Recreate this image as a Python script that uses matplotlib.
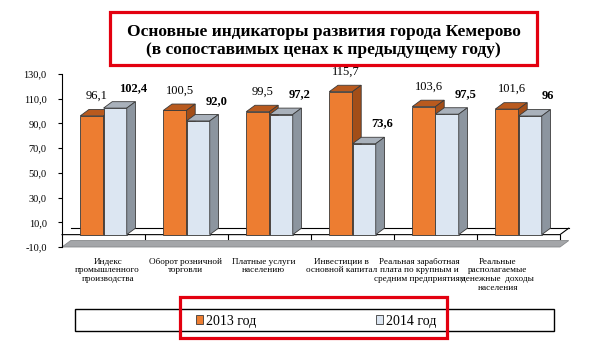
import matplotlib
matplotlib.use("Agg")
import matplotlib.pyplot as plt
from matplotlib.patches import Polygon, Rectangle, Patch
import numpy as np

categories = [
    "Индекс\nпромышленного\nпроизводства",
    "Оборот розничной\nторговли",
    "Платные услуги\nнаселению",
    "Инвестиции в\nосновной капитал",
    "Реальная заработная\nплата по крупным и\nсредним предприятиям",
    "Реальные\nрасполагаемые\nденежные  доходы\nнаселения",
]
vals_2013 = [96.1, 100.5, 99.5, 115.7, 103.6, 101.6]
vals_2014 = [102.4, 92.0, 97.2, 73.6, 97.5, 96.0]
labels_2013 = ["96,1", "100,5", "99,5", "115,7", "103,6", "101,6"]
labels_2014 = ["102,4", "92,0", "97,2", "73,6", "97,5", "96"]
series_names = ["2013 год", "2014 год"]
yticks = [-10, 10, 30, 50, 70, 90, 110, 130]

SERIF = "Liberation Serif"
plt.rcParams["font.family"] = [SERIF, "DejaVu Serif"]

# face colours: front, top, side
orange = ("#ED7D31", "#B95A1E", "#A34E18")
light = ("#DCE6F2", "#A9B1BB", "#8C959F")
edge = "#3a3a3a"

fig = plt.figure(figsize=(6.05, 3.53), dpi=100)
ax = fig.add_axes([62 / 605, 1 - 247 / 353, 498 / 605, 173 / 353])
ax.set_xlim(-0.5, 5.5)
ax.set_ylim(-10, 130)

dx, dy = 0.105, 5.2  # fake 3d depth
x = np.arange(len(categories))
w = 0.28

# floor
ax.add_patch(Polygon([(-0.5, -10), (5.5, -10), (5.5 + dx, -10 + dy), (-0.5 + dx, -10 + dy)],
                     closed=True, facecolor="#A4A6A9", edgecolor="#86888b", lw=0.6,
                     clip_on=False, zorder=1))
ax.plot([-0.5 + dx, 5.5 + dx], [dy, dy], color="black", lw=0.8, clip_on=False, zorder=1)
ax.plot([-0.5, 5.5, 5.5 + dx], [0, 0, dy], color="black", lw=0.8, clip_on=False, zorder=1)
for b in np.arange(0.5, 6.0, 1.0):
    ax.plot([b, b], [0, -3.5], color="black", lw=0.8, clip_on=False, zorder=1)


def bars_3d(xs, vals, cols, z):
    bars = ax.bar(xs, vals, width=w, color=cols[0], edgecolor=edge, lw=0.6, zorder=z)
    for r in bars:
        x0, h = r.get_x(), r.get_height()
        x1 = x0 + r.get_width()
        ax.add_patch(Polygon([(x0, h), (x1, h), (x1 + dx, h + dy), (x0 + dx, h + dy)],
                             closed=True, facecolor=cols[1], edgecolor=edge, lw=0.6,
                             zorder=z, clip_on=False))
        ax.add_patch(Polygon([(x1, 0), (x1 + dx, dy), (x1 + dx, h + dy), (x1, h)],
                             closed=True, facecolor=cols[2], edgecolor=edge, lw=0.6,
                             zorder=z, clip_on=False))
    return bars


bars_3d(x - w / 2, vals_2013, orange, 3)
bars_3d(x + w / 2, vals_2014, light, 4)

for xi, v, s in zip(x, vals_2013, labels_2013):
    ax.annotate(s, (xi - w / 2, v), xytext=(3.5, 14.5), textcoords="offset points",
                ha="center", va="center", fontsize=9, annotation_clip=False)
for xi, v, s in zip(x, vals_2014, labels_2014):
    ax.annotate(s, (xi + w / 2, v), xytext=(13, 14.5), textcoords="offset points",
                ha="center", va="center", fontsize=9, fontweight="bold",
                annotation_clip=False)

# category labels (shifted a bit left like the perspective original)
for xi, c in zip(x, categories):
    ax.text(xi * 0.94 + 0.05, -18.5, c, ha="center", va="top", fontsize=6.6,
            linespacing=1.15, clip_on=False)

ax.set_xticks([])
ax.set_yticks(yticks)
ax.set_yticklabels([f"{t:.1f}".replace(".", ",") for t in yticks], fontsize=7.5)
ax.tick_params(axis="y", length=3, width=0.8, pad=8)
for s in ["top", "right", "bottom"]:
    ax.spines[s].set_visible(False)
ax.spines["left"].set_linewidth(0.8)
ax.patch.set_alpha(0)

# title in red frame
fig.text(323.5 / 605, 1 - 41 / 353,
         "Основные индикаторы развития города Кемерово\n(в сопоставимых ценах к предыдущему году)",
         ha="center", va="center", fontsize=12.5, fontweight="bold", linespacing=1.1)
fig.patches.append(Rectangle((110 / 605, 1 - 65 / 353), 427 / 605, 53 / 353,
                             transform=fig.transFigure, fill=False, edgecolor="#E3000F", lw=2.3))

# legend
fig.patches.append(Rectangle((75 / 605, 1 - 331 / 353), 479 / 605, 22 / 353,
                             transform=fig.transFigure, fill=False, edgecolor="black", lw=1.0))
fig.patches.append(Rectangle((180 / 605, 1 - 338 / 353), 267 / 605, 41 / 353,
                             transform=fig.transFigure, fill=False, edgecolor="#E3000F", lw=2.3))
handles = [Patch(facecolor=orange[0], edgecolor=edge, lw=0.6),
           Patch(facecolor=light[0], edgecolor=edge, lw=0.6)]
fig.legend(handles, series_names, loc="center", bbox_to_anchor=(316 / 605, 1 - 321 / 353),
           ncol=2, frameon=False, fontsize=10, handlelength=0.55, handleheight=0.55,
           handletextpad=0.2, columnspacing=8.6)

fig.savefig("out.png", dpi=100)
